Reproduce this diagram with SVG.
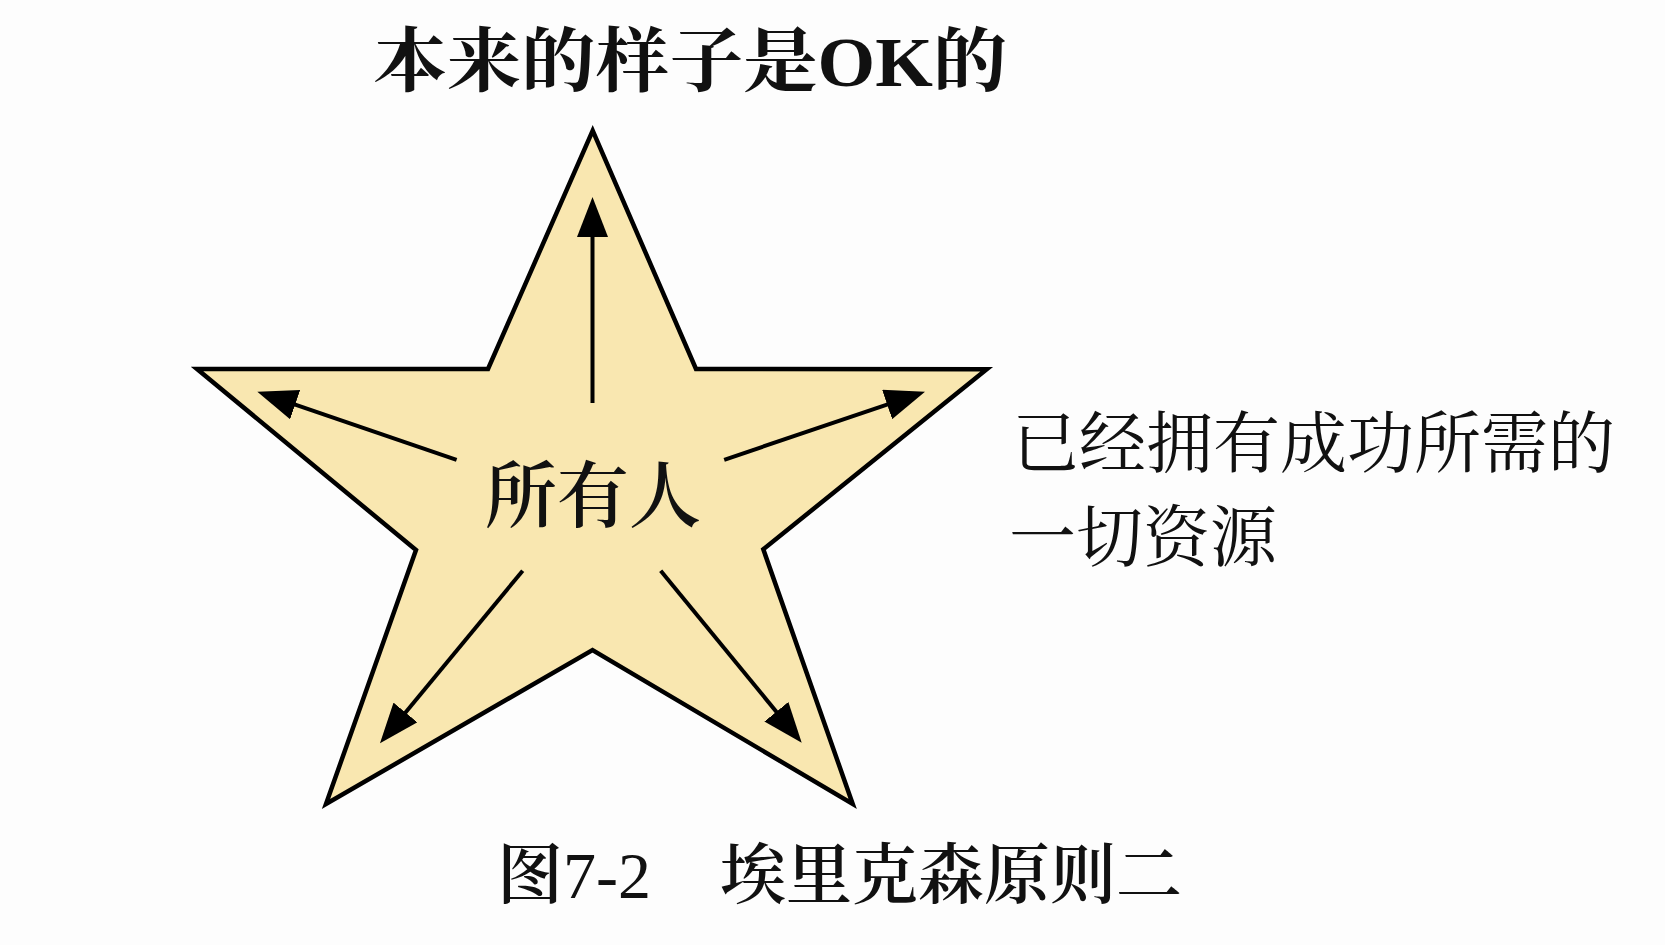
<svg xmlns="http://www.w3.org/2000/svg" width="1665" height="945" viewBox="0 0 1665 945">
  <style>
    .txt { font-family: 'Liberation Serif', 'Noto Serif CJK SC', 'Noto Sans CJK SC', serif; fill: #111; }
    .bold { font-weight: bold; }
    .semi { font-weight: 600; }
    .reg { font-weight: normal; }
    .star { fill: #F9E7B0; stroke: #000; stroke-width: 4.5; stroke-linejoin: miter; }
    .arrow { stroke: #000; stroke-width: 4; fill: none; marker-end: url(#head); }
  </style>
  <defs>
    <marker id="head" viewBox="0 0 40 31" markerWidth="40" markerHeight="31" refX="10" refY="15.5" orient="auto" markerUnits="userSpaceOnUse">
      <path d="M0,0 L40,15.5 L0,31 z" fill="#000"/>
    </marker>
  </defs>
  <rect width="1665" height="945" fill="#FDFDFD"/>

  <g id="title">
    <text class="txt bold" x="373" y="86" font-size="70" textLength="634" lengthAdjust="spacingAndGlyphs">本来的样子是OK的</text>
  </g>

  <g id="star">
    <polygon class="star" points="592.7,130.7 696,369 986.7,369.3 763.3,549.3 852.7,804 592.5,650 326,804 416,550 197,369 488,369"/>
    <text class="txt semi" x="593" y="521" font-size="72" text-anchor="middle">所有人</text>
  </g>

  <g id="connectors">
    <line class="arrow" x1="592.5" y1="403" x2="592.5" y2="227"/>
    <line class="arrow" x1="456.6" y1="459.8" x2="285.7" y2="401.4"/>
    <line class="arrow" x1="724.2" y1="459.8" x2="896.6" y2="401.3"/>
    <line class="arrow" x1="522.7" y1="570.7" x2="399.1" y2="720.2"/>
    <line class="arrow" x1="660.7" y1="570.7" x2="782.7" y2="719.5"/>
  </g>

  <g id="resources">
    <text class="txt" x="1012" y="467" font-size="67">已经拥有成功所需的</text>
    <text class="txt" x="1009" y="561" font-size="67">一切资源</text>
  </g>

  <g id="caption">
    <text class="txt semi" x="497" y="898" font-size="66">图<tspan class="reg">7-2</tspan></text>
    <text class="txt semi" x="720" y="898" font-size="66">埃里克森原则二</text>
  </g>
</svg>
